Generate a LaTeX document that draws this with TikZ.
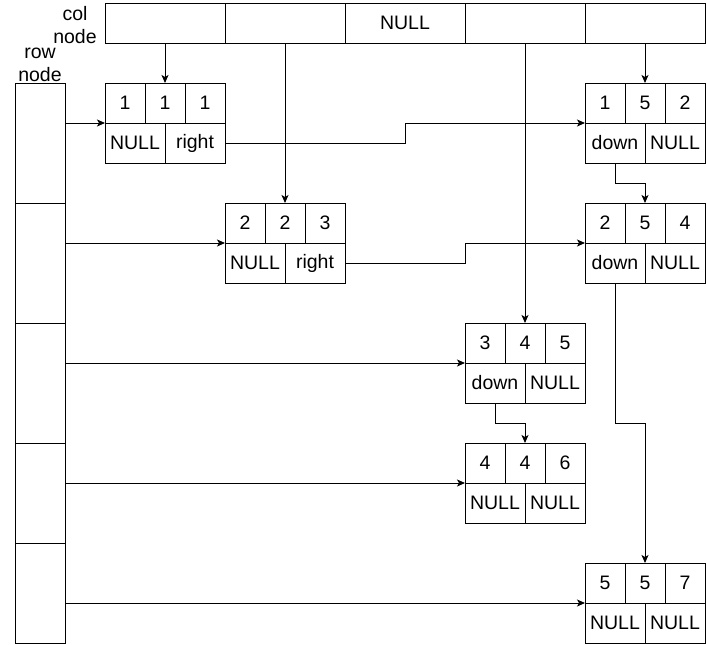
\documentclass[tikz,border=0pt]{standalone}
\usepackage{fontspec}
\setmainfont{Liberation Sans}
\usetikzlibrary{arrows.meta}
\tikzset{
  cell/.style={draw, line width=1pt, inner sep=0pt, outer sep=0pt, minimum height=40pt, font=\fontsize{19.5}{22}\selectfont},
  tcell/.style={cell, minimum width=40pt},
  bcell/.style={cell, minimum width=60pt},
  hcell/.style={cell, minimum width=120pt},
  rcell/.style={cell, minimum width=50pt},
  lbl/.style={align=center, inner sep=0pt, font=\fontsize{19.5}{23}\selectfont},
  arr/.style={-{Stealth[length=8pt,width=7pt,inset=2pt]}, line width=1pt}
}
\newcommand{\mnode}[7]{%
  \node[tcell, anchor=north west] (#1a) at (#2) {#3};
  \node[tcell, anchor=west] (#1b) at (#1a.east) {#4};
  \node[tcell, anchor=west] (#1c) at (#1b.east) {#5};
  \node[bcell, anchor=north west] (#1d) at (#1a.south west) {#6};
  \node[bcell, anchor=west] (#1e) at (#1d.east) {#7};
}
\begin{document}
\begin{tikzpicture}[x=1pt, y=-1pt]
\useasboundingbox (0,0) rectangle (707,645);
% column header
\node[hcell, anchor=north west] (c1) at (105,3) {};
\node[hcell, anchor=west] (c2) at (c1.east) {};
\node[hcell, anchor=west] (c3) at (c2.east) {NULL};
\node[hcell, anchor=west] (c4) at (c3.east) {};
\node[hcell, anchor=west] (c5) at (c4.east) {};
% row header
\node[rcell, minimum height=120pt, anchor=north west] (r1) at (15,83) {};
\node[rcell, minimum height=120pt, anchor=north] (r2) at (r1.south) {};
\node[rcell, minimum height=120pt, anchor=north] (r3) at (r2.south) {};
\node[rcell, minimum height=100pt, anchor=north] (r4) at (r3.south) {};
\node[rcell, minimum height=100pt, anchor=north] (r5) at (r4.south) {};
% labels
\node[lbl] (collbl) at (75,25) {col\\node};
\node[lbl] (rowlbl) at (40,65) {row\\node};
% list nodes
\mnode{p}{105,83}{1}{1}{1}{NULL}{right}
\mnode{q}{585,83}{1}{5}{2}{down}{NULL}
\mnode{s}{225,203}{2}{2}{3}{NULL}{right}
\mnode{t}{585,203}{2}{5}{4}{down}{NULL}
\mnode{u}{465,323}{3}{4}{5}{down}{NULL}
\mnode{v}{465,443}{4}{4}{6}{NULL}{NULL}
\mnode{w}{585,563}{5}{5}{7}{NULL}{NULL}
% column pointers
\draw[arr] (c1.south) -- (pb.north);
\draw[arr] (c2.south) -- (sb.north);
\draw[arr] (c4.south) -- (ub.north);
\draw[arr] (c5.south) -- (qb.north);
% row pointers
\draw[arr] (pa.south west -| r1.east) -- (pa.south west);
\draw[arr] (sa.south west -| r2.east) -- (sa.south west);
\draw[arr] (ua.south west -| r3.east) -- (ua.south west);
\draw[arr] (va.south west -| r4.east) -- (va.south west);
\draw[arr] (wa.south west -| r5.east) -- (wa.south west);
% right links
\draw[arr] (pe.east) -- ++(180,0) |- (qa.south west);
\draw[arr] (se.east) -- ++(120,0) |- (ta.south west);
% down links
\draw[arr] (qd.south) -- ++(0,20) -| (tb.north);
\draw[arr] (ud.south) -- ++(0,20) -| (vb.north);
\draw[arr] (td.south) -- ++(0,140) -| (wb.north);
\end{tikzpicture}
\end{document}
